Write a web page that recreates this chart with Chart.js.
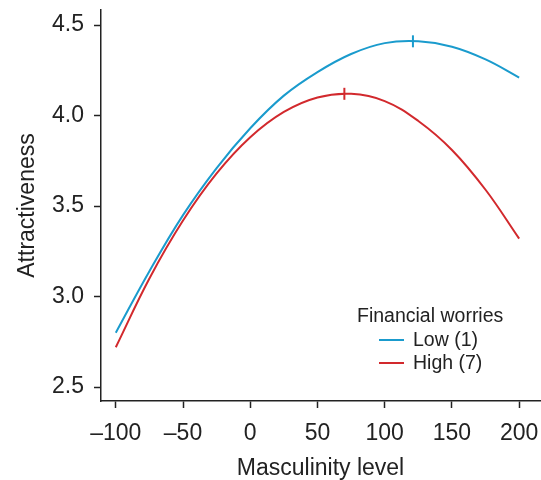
<!DOCTYPE html>
<html>
<head>
<meta charset="utf-8">
<script src="https://cdn.jsdelivr.net/npm/chart.js@4/dist/chart.umd.min.js"></script>
<style>
  html, body { margin: 0; padding: 0; background: #fff; }
  #wrap { position: relative; width: 541px; height: 480px; }
  #legend { position: absolute; left: 357px; top: 302px; font-family: "Liberation Sans", Arial, sans-serif; font-size: 19.5px; color: #222; }
  #legend .ttl { line-height: 26px; }
  #legend .row { display: flex; align-items: center; height: 23px; padding-left: 22px; }
  #legend .sw { width: 25px; height: 2px; margin-right: 9px; }
</style>
</head>
<body>
<div id="wrap">
  <canvas id="chart" width="541" height="480"></canvas>
  <div id="legend"></div>
</div>
<script>
// masculinity levels where the curves were read
const xLevels = [-100, -75, -50, -25, 0, 25, 50, 75, 100, 125, 150, 175, 200];
// attractiveness, low financial worries (1)
const lowWorries = [2.80, 3.14, 3.45, 3.71, 3.93, 4.11, 4.24, 4.34, 4.40, 4.41, 4.38, 4.31, 4.21];
// attractiveness, high financial worries (7)
const highWorries = [2.72, 3.10, 3.42, 3.68, 3.88, 4.02, 4.10, 4.12, 4.08, 3.97, 3.81, 3.59, 3.32];
// peak marks on each curve
const lowPeak  = { x: 121, y: 4.41 };
const highPeak = { x: 70,  y: 4.12 };

const seriesNames  = ['Low (1)', 'High (7)'];
const seriesColors = ['#1a9bcd', '#d2292d'];
const yTicks = [2.5, 3.0, 3.5, 4.0, 4.5];
const xTicks = [-100, -50, 0, 50, 100, 150, 200];

const FONT = '"Liberation Sans", Arial, sans-serif';
const toPoints = vals => vals.map((v, i) => ({ x: xLevels[i], y: v }));

const curve = (label, vals, color) => ({
  type: 'line', label, data: toPoints(vals),
  borderColor: color, backgroundColor: color,
  borderWidth: 2, pointRadius: 0, tension: 0.4, fill: false,
});
const peak = (p, color) => ({
  type: 'scatter', label: '', data: [p],
  pointStyle: 'line', rotation: 90, pointRadius: 6,
  borderColor: color, pointBorderWidth: 2, pointHoverRadius: 6,
});

// keep the plot box fixed: no extra room for overhanging labels
const noPad = s => { s.paddingLeft = 0; s.paddingRight = 0; s.paddingTop = 0; s.paddingBottom = 0; };

new Chart(document.getElementById('chart'), {
  type: 'line',
  data: {
    datasets: [
      curve(seriesNames[0], lowWorries, seriesColors[0]),
      curve(seriesNames[1], highWorries, seriesColors[1]),
      peak(lowPeak, seriesColors[0]),
      peak(highPeak, seriesColors[1]),
    ],
  },
  options: {
    responsive: false, animation: false,
    layout: { autoPadding: false, padding: { top: 10, right: 1, left: 0, bottom: 0 } },
    plugins: { legend: { display: false }, tooltip: { enabled: false } },
    scales: {
      x: {
        type: 'linear', min: -111, max: 215.5,
        afterBuildTicks: s => { s.ticks = xTicks.map(v => ({ value: v })); },
        afterFit: s => { s.height = 79; noPad(s); },
        border: { color: '#222', width: 1.5 },
        grid: { drawOnChartArea: false, tickLength: 7, color: '#222', tickWidth: 1.5 },
        ticks: { color: '#222', padding: 12, font: { family: FONT, size: 23 },
                 callback: v => v < 0 ? '\u2013' + Math.abs(v) : String(v) },
        title: { display: true, text: 'Masculinity level', color: '#222',
                 font: { family: FONT, size: 23, lineHeight: 1.0 }, padding: { top: 12, bottom: 0 } },
      },
      y: {
        min: 2.423, max: 4.583,
        afterBuildTicks: s => { s.ticks = yTicks.map(v => ({ value: v })); },
        afterFit: s => { s.width = 101; noPad(s); },
        border: { color: '#222', width: 1.5 },
        grid: { drawOnChartArea: false, tickLength: 7, color: '#222', tickWidth: 1.5 },
        ticks: { color: '#222', padding: 10, font: { family: FONT, size: 23 },
                 callback: v => v.toFixed(1) },
        title: { display: true, text: 'Attractiveness', color: '#222',
                 font: { family: FONT, size: 23 }, padding: { top: 14, bottom: 0 } },
      },
    },
  },
});

// legend inside the plot, built from the series
const legendEl = document.getElementById('legend');
legendEl.innerHTML = '<div class="ttl">Financial worries</div>' +
  seriesNames.map((n, i) =>
    `<div class="row"><span class="sw" style="background:${seriesColors[i]}"></span>${n}</div>`
  ).join('');
</script>
</body>
</html>
